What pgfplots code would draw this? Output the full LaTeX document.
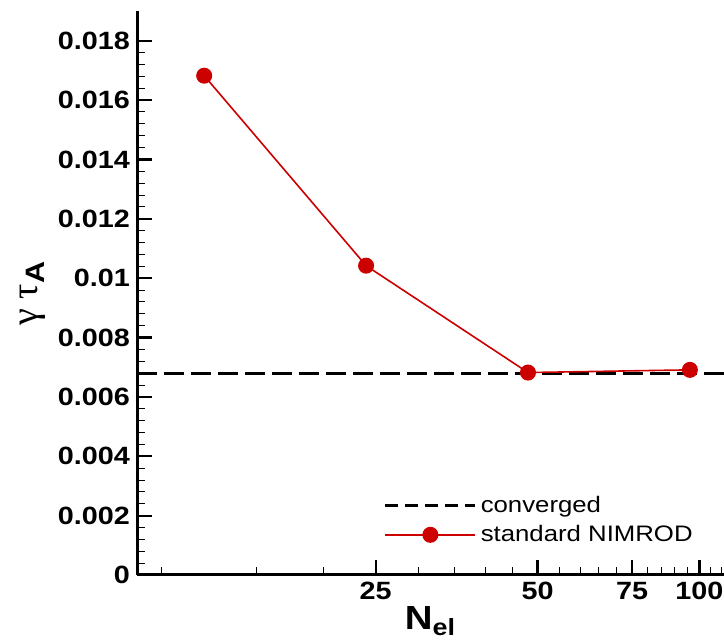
\documentclass[border=0pt]{standalone}
\usepackage{fontspec}
\setmainfont{Liberation Sans}[FakeStretch=1.15]
\newfontfamily\greekfont{Liberation Serif}
\usepackage{pgfplots}
\pgfplotsset{compat=1.18}
\definecolor{nred}{RGB}{205,0,0}
\begin{document}
\begin{tikzpicture}
\useasboundingbox (-68.5pt,-33pt) rectangle (293.5pt,287.5pt);
\begin{axis}[
  at={(0,0)}, anchor=south west,
  scale only axis, width=293.4pt, height=282pt,
  xmode=log, xmin=9, xmax=111, ymin=0, ymax=0.019,
  axis x line=bottom, axis y line=left,
  axis line style={-, line width=1.5pt},
  tick align=inside,
  xtick={25,50,75,100}, xticklabels={25,50,75,100},
  minor xtick={10,15,20,30,35,40,45,55,60,65,70,80,85,90,95,105,110},
  ytick={0,0.002,0.004,0.006,0.008,0.01,0.012,0.014,0.016,0.018},
  yticklabels={0,0.002,0.004,0.006,0.008,0.01,0.012,0.014,0.016,0.018},
  minor y tick num=4,
  scaled y ticks=false,
  major tick length=7.5pt, minor tick length=4pt,
  every major tick/.append style={line width=1.1pt, black},
  every minor tick/.append style={line width=0.5pt, black},
  tick label style={font=\fontsize{12.5}{14}\selectfont\bfseries},
  every axis y label/.style={at={(axis description cs:-0.177,0.5)}, rotate=90, anchor=center},
  every axis x label/.style={at={(axis description cs:0.5,-0.0975)}, anchor=base},
  ylabel={\fontsize{19}{21}\selectfont{\greekfont γ τ}\bfseries\textsubscript{A}},
  xlabel={\fontsize{16.7}{18}\selectfont\bfseries N\textsubscript{el}},
  legend style={at={(axis description cs:0.41,0.155)}, anchor=north west, draw=none, fill=none,
    font=\fontsize{11.2}{13}\selectfont, row sep=1pt},
  legend cell align=left,
  legend image code/.code={\draw[mark repeat=2,mark phase=2,#1] plot coordinates {(0pt,0pt) (22.5pt,0pt) (45pt,0pt)};},
]
\addplot[black, line width=1.4pt, dash pattern=on 10pt off 3.5pt,
  legend image code/.code={\draw[black, line width=1.4pt, dash pattern=on 6.5pt off 3.5pt] (0pt,0pt) -- (45pt,0pt);}]
  coordinates {(9,0.00678) (111,0.00678)};
\addlegendentry{converged}
\addplot[nred, line width=0.8pt, mark=*, mark size=3.6pt, mark options={fill=nred, draw=nred}]
  coordinates {(12,0.01682) (24,0.01042) (48,0.00682) (96,0.00691)};
\addlegendentry{standard NIMROD}
\end{axis}
\end{tikzpicture}
\end{document}
